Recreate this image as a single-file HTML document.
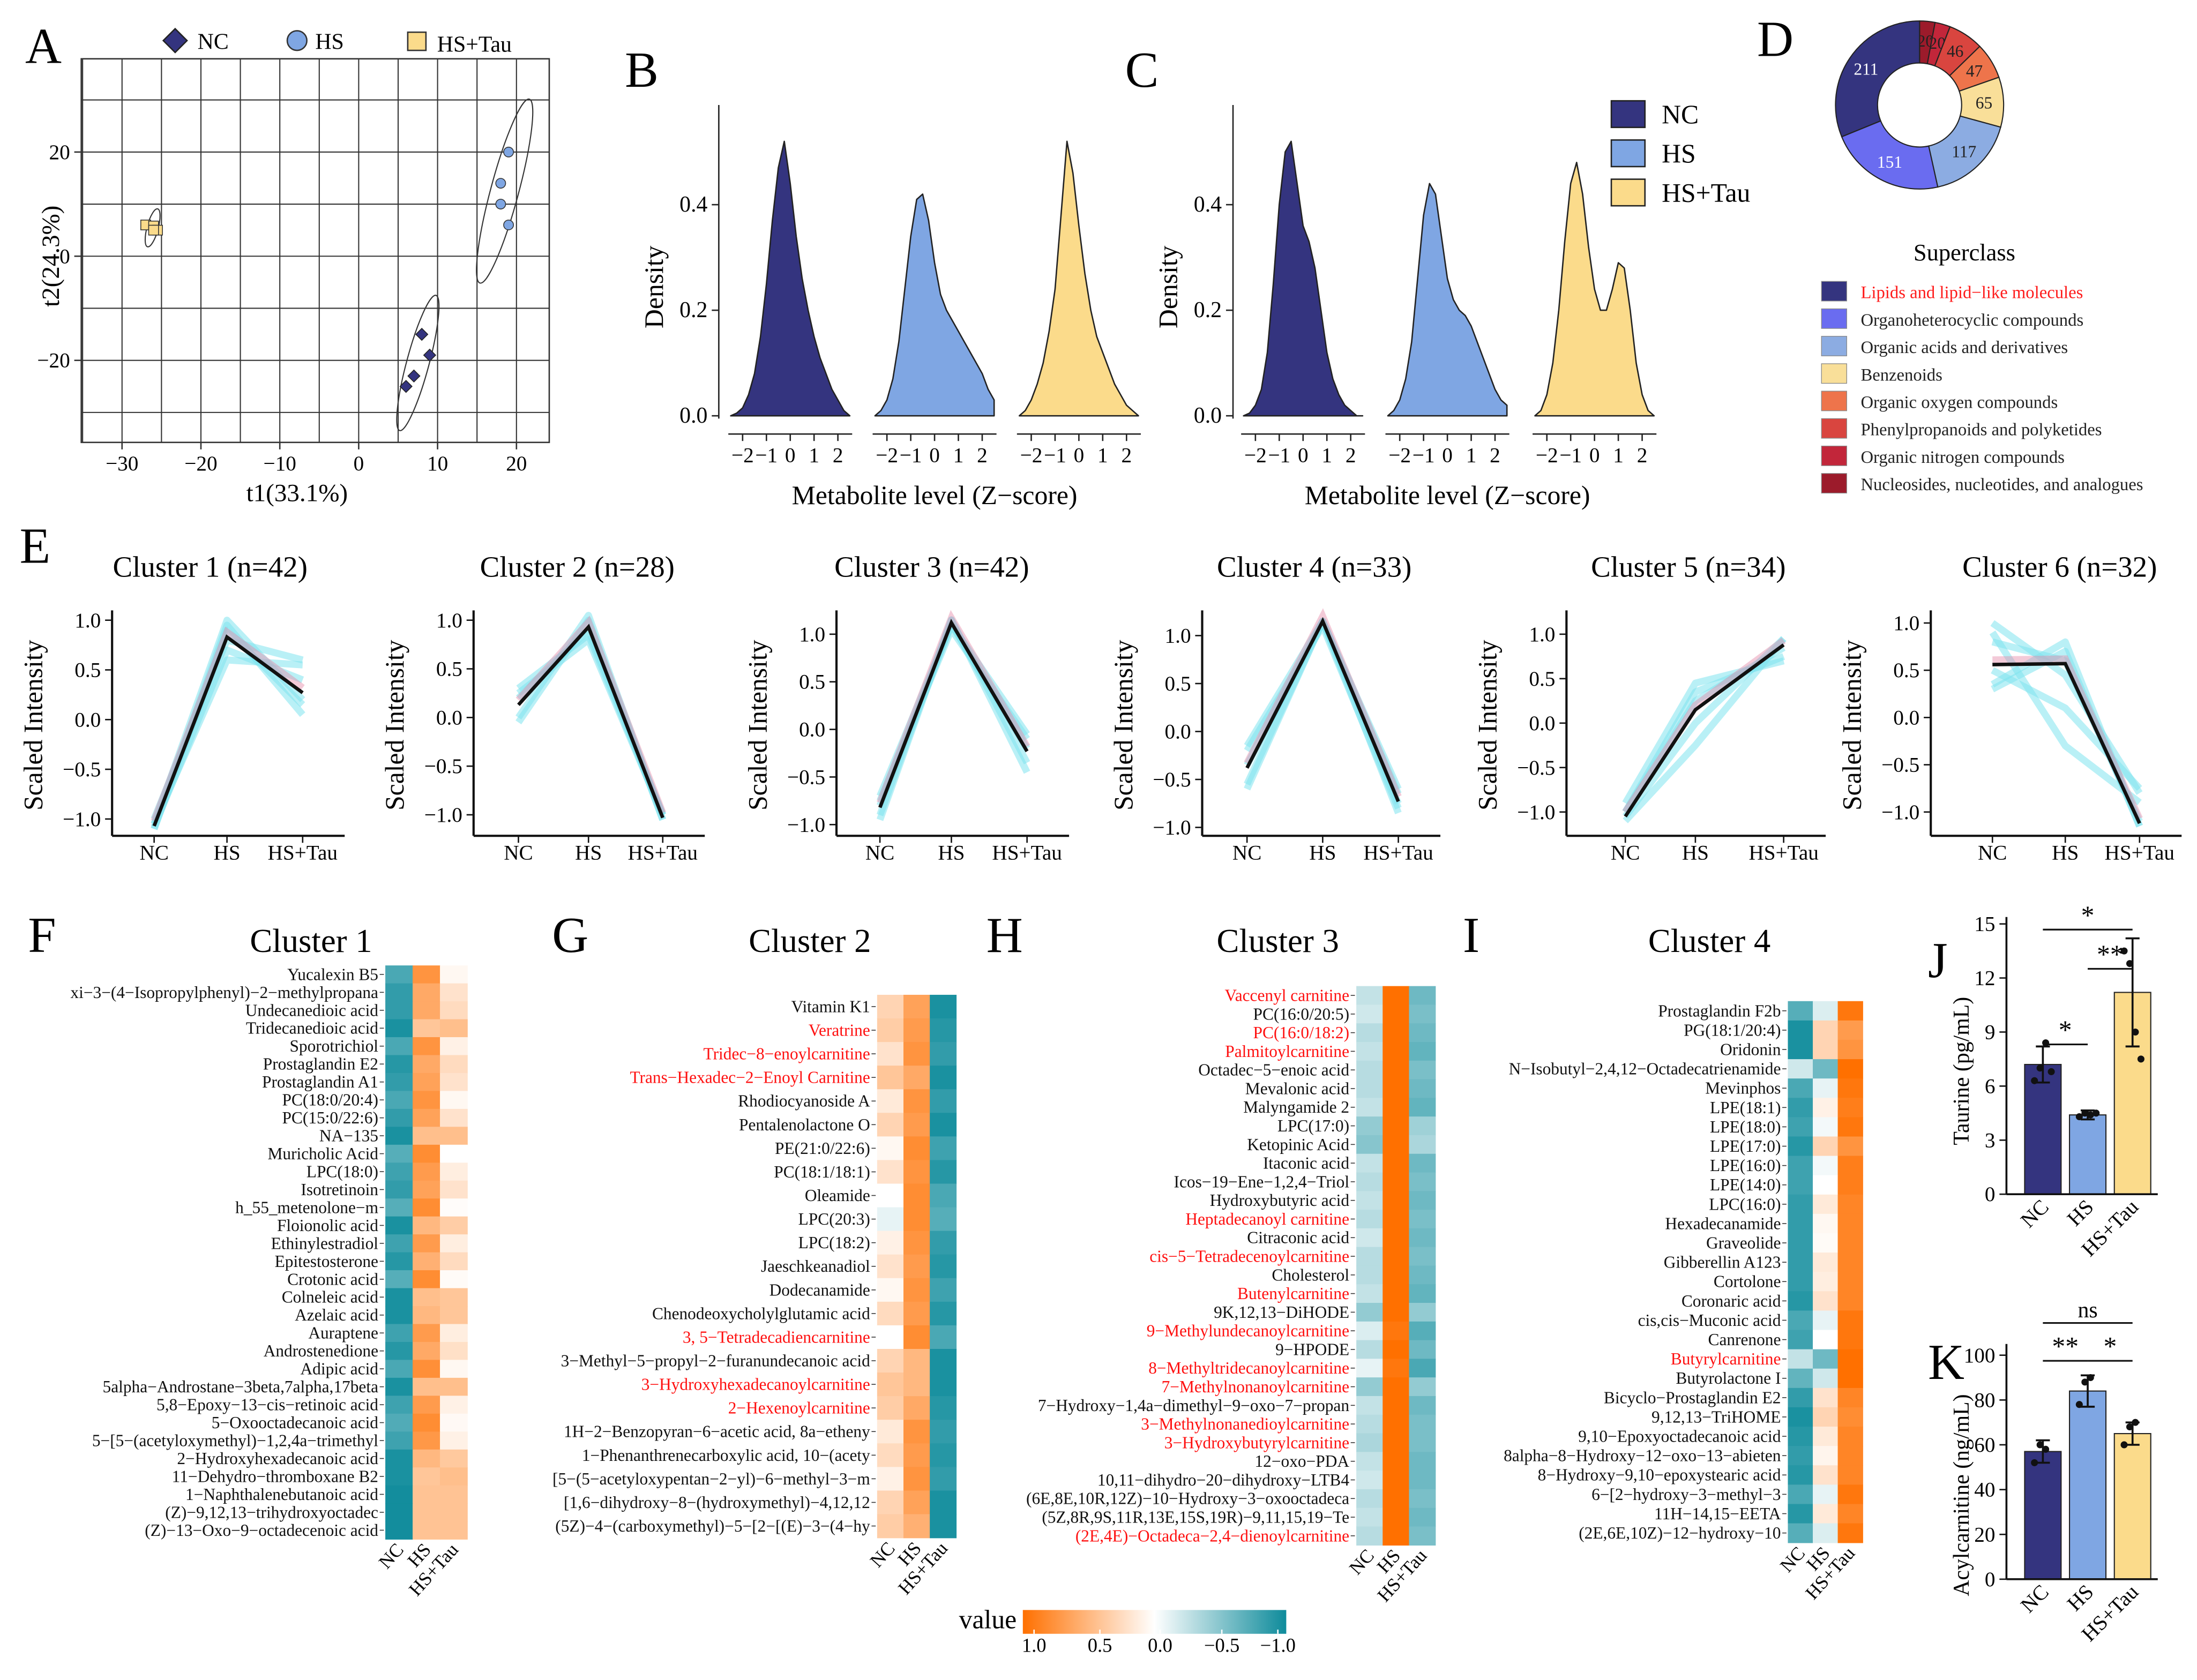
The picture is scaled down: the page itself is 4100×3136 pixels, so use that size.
<!DOCTYPE html>
<html><head><meta charset="utf-8">
<style>
html,body{margin:0;padding:0;background:#fff;}
svg{display:block;font-family:"Liberation Serif",serif;}
</style></head>
<body>
<svg id="fig" xmlns="http://www.w3.org/2000/svg" width="4100" height="3136" viewBox="0 0 1568 1200" preserveAspectRatio="none"></svg>
<script>
// ===== DATA =====
const pcaNC=[[8,-15],[9,-19],[7,-23],[6,-25]];
const pcaHS=[[19,20],[18,14],[18,10],[19,6]];
const pcaTau=[[-27,6],[-26,5.8],[-25.5,5],[-26,5]];
const zGrid=[-2.5,-2.25,-2,-1.75,-1.5,-1.25,-1,-0.75,-0.5,-0.25,0,0.25,0.5,0.75,1,1.25,1.5,1.75,2,2.25,2.5];
const densB_NC=[0,0.005,0.015,0.04,0.08,0.15,0.25,0.37,0.47,0.52,0.44,0.34,0.26,0.2,0.15,0.11,0.08,0.05,0.03,0.01,0];
const densB_HS=[0,0.01,0.03,0.07,0.14,0.24,0.34,0.41,0.42,0.37,0.29,0.23,0.2,0.18,0.16,0.14,0.12,0.1,0.08,0.05,0.03];
const densB_Tau=[0,0.01,0.03,0.06,0.1,0.16,0.24,0.38,0.52,0.46,0.36,0.27,0.2,0.15,0.12,0.09,0.06,0.04,0.02,0.01,0];
const densC_NC=[0,0.005,0.02,0.05,0.12,0.25,0.4,0.5,0.52,0.44,0.36,0.33,0.28,0.2,0.12,0.07,0.04,0.02,0.01,0,0];
const densC_HS=[0,0.01,0.03,0.07,0.14,0.26,0.38,0.44,0.42,0.34,0.26,0.22,0.2,0.19,0.17,0.14,0.11,0.08,0.05,0.03,0.02];
const densC_Tau=[0,0.01,0.04,0.1,0.2,0.33,0.44,0.48,0.42,0.32,0.24,0.2,0.2,0.24,0.29,0.28,0.2,0.1,0.04,0.01,0];
const donutLabels=["Nucleosides, nucleotides, and analogues","Organic nitrogen compounds","Phenylpropanoids and polyketides","Organic oxygen compounds","Benzenoids","Organic acids and derivatives","Organoheterocyclic compounds","Lipids and lipid−like molecules"];
const donutValues=[20,20,46,47,65,117,151,211];
const clusterTitles=["Cluster 1 (n=42)","Cluster 2 (n=28)","Cluster 3 (n=42)","Cluster 4 (n=33)","Cluster 5 (n=34)","Cluster 6 (n=32)"];
const clusterMeans=[[-1.07,0.83,0.27],[0.13,0.93,-1.03],[-0.82,1.12,-0.23],[-0.38,1.15,-0.73],[-1.05,0.15,0.88],[0.56,0.57,-1.12]];
const clusterTraces=[
 [[-1.05,0.6,0.55],[-1.1,0.95,0.05],[-1.0,0.8,0.6],[-1.1,0.9,0.15],[-1.08,0.7,0.4],[-1.05,1.0,0.2]],
 [[0.3,0.85,-1.0],[-0.05,1.0,-1.05],[0.25,0.8,-1.0],[0.0,1.05,-1.05],[0.2,0.9,-1.0]],
 [[-0.7,1.1,-0.05],[-0.95,1.15,-0.45],[-0.75,1.05,-0.1],[-0.9,1.15,-0.35],[-0.8,1.1,-0.2]],
 [[-0.15,1.15,-0.85],[-0.6,1.15,-0.6],[-0.2,1.1,-0.8],[-0.55,1.15,-0.65],[-0.35,1.15,-0.75]],
 [[-0.9,0.45,0.7],[-1.1,-0.25,0.95],[-1.0,0.35,0.75],[-1.05,0.0,0.95],[-1.0,0.25,0.85]],
 [[1.0,0.45,-0.8],[0.3,0.7,-1.15],[0.9,-0.3,-0.9],[0.5,0.1,-0.75],[0.8,0.6,-1.1],[0.35,0.8,-1.15]]
];
const groups=["NC","HS","HS+Tau"];
const hmF_labels=["Yucalexin B5","xi−3−(4−Isopropylphenyl)−2−methylpropana","Undecanedioic acid","Tridecanedioic acid","Sporotrichiol","Prostaglandin E2","Prostaglandin A1","PC(18:0/20:4)","PC(15:0/22:6)","NA−135","Muricholic Acid","LPC(18:0)","Isotretinoin","h_55_metenolone−m","Floionolic acid","Ethinylestradiol","Epitestosterone","Crotonic acid","Colneleic acid","Azelaic acid","Auraptene","Androstenedione","Adipic acid","5alpha−Androstane−3beta,7alpha,17beta","5,8−Epoxy−13−cis−retinoic acid","5−Oxooctadecanoic acid","5−[5−(acetyloxymethyl)−1,2,4a−trimethyl","2−Hydroxyhexadecanoic acid","11−Dehydro−thromboxane B2","1−Naphthalenebutanoic acid","(Z)−9,12,13−trihydroxyoctadec","(Z)−13−Oxo−9−octadecenoic acid"];
const hmF_values=[[-0.75,0.75,0.05],[-0.85,0.6,0.2],[-0.85,0.6,0.25],[-0.95,0.4,0.45],[-0.75,0.75,0.1],[-0.9,0.6,0.25],[-0.85,0.65,0.2],[-0.75,0.75,0.05],[-0.85,0.65,0.2],[-0.95,0.45,0.45],[-0.7,0.8,0.0],[-0.8,0.7,0.12],[-0.85,0.65,0.2],[-0.7,0.8,0.02],[-0.95,0.5,0.35],[-0.8,0.7,0.12],[-0.9,0.55,0.25],[-0.7,0.8,0.03],[-0.95,0.45,0.4],[-0.95,0.5,0.4],[-0.8,0.7,0.12],[-0.9,0.6,0.22],[-0.75,0.78,0.05],[-0.95,0.45,0.45],[-0.8,0.7,0.1],[-0.72,0.8,0.04],[-0.8,0.72,0.1],[-0.95,0.5,0.38],[-0.95,0.4,0.45],[-0.98,0.42,0.42],[-0.98,0.42,0.42],[-0.98,0.42,0.42]];
const hmF_red=[];
const hmG_labels=["Vitamin K1","Veratrine","Tridec−8−enoylcarnitine","Trans−Hexadec−2−Enoyl Carnitine","Rhodiocyanoside A","Pentalenolactone O","PE(21:0/22:6)","PC(18:1/18:1)","Oleamide","LPC(20:3)","LPC(18:2)","Jaeschkeanadiol","Dodecanamide","Chenodeoxycholylglutamic acid","3, 5−Tetradecadiencarnitine","3−Methyl−5−propyl−2−furanundecanoic acid","3−Hydroxyhexadecanoylcarnitine","2−Hexenoylcarnitine","1H−2−Benzopyran−6−acetic acid, 8a−etheny","1−Phenanthrenecarboxylic acid, 10−(acety","[5−(5−acetyloxypentan−2−yl)−6−methyl−3−m","[1,6−dihydroxy−8−(hydroxymethyl)−4,12,12","(5Z)−4−(carboxymethyl)−5−[2−[(E)−3−(4−hy"];
const hmG_values=[[0.3,0.65,-0.95],[0.35,0.7,-0.9],[0.2,0.75,-0.85],[0.4,0.6,-0.95],[0.15,0.75,-0.85],[0.3,0.7,-0.95],[0.05,0.8,-0.8],[0.2,0.75,-0.9],[0.0,0.8,-0.75],[-0.1,0.8,-0.7],[0.1,0.75,-0.85],[0.2,0.7,-0.9],[0.05,0.75,-0.8],[0.25,0.7,-0.9],[0.0,0.8,-0.75],[0.3,0.5,-0.95],[0.4,0.5,-0.95],[0.35,0.6,-0.9],[0.15,0.75,-0.85],[0.25,0.7,-0.9],[0.1,0.75,-0.85],[0.3,0.65,-0.95],[0.35,0.55,-0.95]];
const hmG_red=[1,2,3,14,16,17];
const hmH_labels=["Vaccenyl carnitine","PC(16:0/20:5)","PC(16:0/18:2)","Palmitoylcarnitine","Octadec−5−enoic acid","Mevalonic acid","Malyngamide 2","LPC(17:0)","Ketopinic Acid","Itaconic acid","Icos−19−Ene−1,2,4−Triol","Hydroxybutyric acid","Heptadecanoyl carnitine","Citraconic acid","cis−5−Tetradecenoylcarnitine","Cholesterol","Butenylcarnitine","9K,12,13−DiHODE","9−Methylundecanoylcarnitine","9−HPODE","8−Methyltridecanoylcarnitine","7−Methylnonanoylcarnitine","7−Hydroxy−1,4a−dimethyl−9−oxo−7−propan","3−Methylnonanedioylcarnitine","3−Hydroxybutyrylcarnitine","12−oxo−PDA","10,11−dihydro−20−dihydroxy−LTB4","(6E,8E,10R,12Z)−10−Hydroxy−3−oxooctadeca","(5Z,8R,9S,11R,13E,15S,19R)−9,11,15,19−Te","(2E,4E)−Octadeca−2,4−dienoylcarnitine"];
const hmH_values=[[-0.25,1,-0.6],[-0.2,1,-0.55],[-0.3,1,-0.6],[-0.25,1,-0.65],[-0.3,1,-0.55],[-0.3,1,-0.6],[-0.25,1,-0.65],[-0.45,1,-0.4],[-0.5,1,-0.35],[-0.25,1,-0.6],[-0.3,1,-0.55],[-0.25,1,-0.6],[-0.3,1,-0.55],[-0.2,1,-0.6],[-0.3,1,-0.55],[-0.3,1,-0.6],[-0.25,1,-0.65],[-0.45,1,-0.45],[-0.15,0.95,-0.7],[-0.3,1,-0.6],[-0.1,0.95,-0.75],[-0.45,1,-0.45],[-0.25,1,-0.6],[-0.3,1,-0.55],[-0.35,1,-0.55],[-0.25,1,-0.6],[-0.2,1,-0.6],[-0.3,1,-0.55],[-0.25,1,-0.6],[-0.3,1,-0.55]];
const hmH_red=[0,2,3,12,14,16,18,20,21,23,24,29];
const hmI_labels=["Prostaglandin F2b","PG(18:1/20:4)","Oridonin","N−Isobutyl−2,4,12−Octadecatrienamide","Mevinphos","LPE(18:1)","LPE(18:0)","LPE(17:0)","LPE(16:0)","LPE(14:0)","LPC(16:0)","Hexadecanamide","Graveolide","Gibberellin A123","Cortolone","Coronaric acid","cis,cis−Muconic acid","Canrenone","Butyrylcarnitine","Butyrolactone I","Bicyclo−Prostaglandin E2","9,12,13−TriHOME","9,10−Epoxyoctadecanoic acid","8alpha−8−Hydroxy−12−oxo−13−abieten","8−Hydroxy−9,10−epoxystearic acid","6−[2−hydroxy−3−methyl−3","11H−14,15−EETA","(2E,6E,10Z)−12−hydroxy−10"];
const hmI_values=[[-0.7,-0.15,0.95],[-0.95,0.3,0.7],[-0.95,0.3,0.75],[-0.2,-0.6,1],[-0.75,-0.1,0.95],[-0.85,0.1,0.9],[-0.8,-0.05,0.95],[-0.9,0.3,0.75],[-0.8,-0.05,0.9],[-0.8,0.0,0.9],[-0.85,0.15,0.85],[-0.85,0.05,0.85],[-0.85,0.03,0.85],[-0.85,0.15,0.85],[-0.85,0.12,0.85],[-0.9,0.2,0.85],[-0.75,-0.1,0.95],[-0.8,0.0,0.95],[-0.25,-0.6,1],[-0.65,-0.2,1],[-0.85,0.2,0.85],[-0.95,0.3,0.8],[-0.9,0.15,0.85],[-0.85,0.07,0.85],[-0.9,0.2,0.85],[-0.75,-0.1,0.95],[-0.9,0.15,0.85],[-0.7,-0.15,0.95]];
const hmI_red=[18];
const taurineMeans=[7.2,4.4,11.2];
const taurineErr=[1.0,0.25,3.0];
const taurinePoints=[[6.3,7.0,8.4,6.8],[4.3,4.5,4.4,4.5],[13.5,12.8,9.0,7.5]];
const acylMeans=[57,84,65];
const acylErr=[5,7,5];
const acylPoints=[[52,60,58],[78,88,90],[60,68,70]];

// ===== HELPERS =====
const svg=document.getElementById('fig');
const NS='http://www.w3.org/2000/svg';
function mk(tag,attrs,parent){const e=document.createElementNS(NS,tag);for(const k in attrs)e.setAttribute(k,attrs[k]);(parent||svg).appendChild(e);return e;}
function txt(s,x,y,size,attrs,parent){const a=Object.assign({x:x,y:y,'font-size':size},attrs||{});const e=mk('text',a,parent);e.textContent=s;return e;}
function lerp(a,b,t){return a+(b-a)*t;}
function hmColor(v){const o=[255,112,0],w=[255,255,255],t=[14,139,155];let c;if(v>=0){c=[0,1,2].map(i=>Math.round(lerp(w[i],o[i],Math.min(1,v))));}else{c=[0,1,2].map(i=>Math.round(lerp(w[i],t[i],Math.min(1,-v))));}return 'rgb('+c.join(',')+')';}
const grpCol=["#34347f","#7fa6e3","#fbdb8b"];

// ===== PANEL LETTERS =====
const letters=[["A",18,45],["B",446,62],["C",803,62],["D",1254,40],["E",14,402],["F",20,680],["G",394,680],["H",704,680],["I",1044,680],["J",1376,698],["K",1376,985]];
letters.forEach(l=>{const e=txt(l[0],l[1],l[2],36);

});

// ===== PANEL A =====
(function(){
const g=mk('g',{});


const X=v=>256+v*5.63, Y=v=>183-v*3.72;
const L=58,R=392,T=42,B=316;
for(let v=-35;v<=25;v+=5){const x=X(v);if(x>L&&x<R){const ln=mk('line',{x1:x,x2:x,y1:T,y2:B,stroke:'#333','stroke-width':0.8},g);}}
for(let v=-30;v<=30;v+=10){const y=Y(v);if(y>T&&y<B){const ln=mk('line',{x1:L,x2:R,y1:y,y2:y,stroke:'#333','stroke-width':0.8},g);}}
const fr=mk('rect',{x:L,y:T,width:R-L,height:B-T,fill:'none',stroke:'#333','stroke-width':1},g);

[-30,-20,-10,0,10,20].forEach(v=>{mk('line',{x1:X(v),x2:X(v),y1:B,y2:B+5,stroke:'#333'},g);const t=txt(String(v).replace('-','−'),X(v),B+20,15,{'text-anchor':'middle'},g);});
[20,0,-20].forEach(v=>{mk('line',{x1:L-5,x2:L,y1:Y(v),y2:Y(v),stroke:'#333'},g);const t=txt(String(v).replace('-','−'),L-8,Y(v)+5,15,{'text-anchor':'end'},g);});
const xt=txt('t1(33.1%)',212,358,18,{'text-anchor':'middle'},g);
const yt=txt('t2(24.3%)',0,0,18,{'text-anchor':'middle',transform:'translate(42,183) rotate(-90)'},g);
function ell(pts,rx,ry,name){const cx=pts.reduce((s,p)=>s+p[0],0)/pts.length,cy=pts.reduce((s,p)=>s+p[1],0)/pts.length;const e=mk('ellipse',{cx:X(cx),cy:Y(cy),rx:rx,ry:ry,fill:'none',stroke:'#333','stroke-width':0.8,transform:'rotate(15 '+X(cx)+' '+Y(cy)+')'},g);}
ell(pcaNC,8,50,'ellipse-nc');ell(pcaHS,10,68,'ellipse-hs');ell(pcaTau,4,14,'ellipse-hstau');
pcaTau.forEach(p=>{const e=mk('rect',{x:X(p[0])-3.5,y:Y(p[1])-3.5,width:7,height:7,fill:grpCol[2],stroke:'#333','stroke-width':0.6},g);});
pcaNC.forEach(p=>{const e=mk('rect',{x:X(p[0])-3,y:Y(p[1])-3,width:6,height:6,fill:grpCol[0],stroke:'#222','stroke-width':0.6,transform:'rotate(45 '+X(p[0])+' '+Y(p[1])+')'},g);});
pcaHS.forEach(p=>{const e=mk('circle',{cx:X(p[0]),cy:Y(p[1]),r:3.5,fill:grpCol[1],stroke:'#333','stroke-width':0.6},g);});
const l1=mk('rect',{x:119,y:23,width:12,height:12,fill:grpCol[0],stroke:'#222',transform:'rotate(45 125 29)'},g);
const lt1=txt('NC',141,35,16,{},g);
const l2=mk('circle',{cx:212,cy:29,r:7,fill:grpCol[1],stroke:'#333'},g);
const lt2=txt('HS',225,35,16,{},g);
const l3=mk('rect',{x:291,y:23,width:13,height:13,fill:grpCol[2],stroke:'#333'},g);
const lt3=txt('HS+Tau',312,37,16,{},g);
})();

// ===== PANELS B, C (density) =====
function densityPanel(axisX,centers,dens,name){
const g=mk('g',{});


const base=297,sc=377,zs=17;
const Y=v=>base-v*sc;
mk('line',{x1:axisX,x2:axisX,y1:75,y2:base+2,stroke:'#222','stroke-width':1},g);
[0,0.2,0.4].forEach(v=>{mk('line',{x1:axisX-5,x2:axisX,y1:Y(v),y2:Y(v),stroke:'#222'},g);const t=txt(v.toFixed(1),axisX-8,Y(v)+5,16,{'text-anchor':'end'},g);});
const yt=txt('Density',0,0,19,{'text-anchor':'middle',transform:'translate('+(axisX-40)+',205) rotate(-90)'},g);
centers.forEach((c,i)=>{
 const X=z=>c+z*zs;
 let d='M'+X(zGrid[0])+','+Y(0);
 zGrid.forEach((z,j)=>{d+=' L'+X(z)+','+Y(dens[i][j]);});
 d+=' L'+X(zGrid[zGrid.length-1])+','+Y(0)+' Z';
 const p=mk('path',{d:d,fill:grpCol[i],stroke:'#222','stroke-width':1,'stroke-linejoin':'round'},g);
 
 
 mk('line',{x1:X(-2.6),x2:X(2.6),y1:310,y2:310,stroke:'#222'},g);
 [-2,-1,0,1,2].forEach(z=>{mk('line',{x1:X(z),x2:X(z),y1:310,y2:315,stroke:'#222'},g);const t=txt(String(z).replace('-','−'),X(z),330,15,{'text-anchor':'middle'},g);});
});
const xt=txt('Metabolite level (Z−score)',centers[1],360,19,{'text-anchor':'middle'},g);
}
densityPanel(513,[564,667,770],[densB_NC,densB_HS,densB_Tau],'density-plot-b');
densityPanel(880,[930,1033,1138],[densC_NC,densC_HS,densC_Tau],'density-plot-c');
groups.forEach((gname,i)=>{const r=mk('rect',{x:1150,y:72+i*28,width:24,height:19,fill:grpCol[i],stroke:'#222'});const t=txt(gname,1186,88+i*28,19);});

// ===== PANEL D (donut) =====
(function(){
const cx=1370,cy=75,R=60,r=30;
const cols=["#9c1b2b","#c2263a","#d9453f","#ee744b","#f9df99","#8cace2","#6a6cf0","#34347f"];
const total=donutValues.reduce((a,b)=>a+b,0);
let a0=0;
donutValues.forEach((v,i)=>{
 const a1=a0+v/total*Math.PI*2;
 const p=(a,rad)=>[cx+rad*Math.sin(a),cy-rad*Math.cos(a)];
 const [x0,y0]=p(a0,R),[x1,y1]=p(a1,R),[x2,y2]=p(a1,r),[x3,y3]=p(a0,r);
 const large=(a1-a0)>Math.PI?1:0;
 const path=mk('path',{d:`M${x0},${y0} A${R},${R} 0 ${large} 1 ${x1},${y1} L${x2},${y2} A${r},${r} 0 ${large} 0 ${x3},${y3} Z`,fill:cols[i],stroke:'#222','stroke-width':0.8});
 
 
 const [lx,ly]=p((a0+a1)/2,46);
 const t=txt(String(v),lx,ly+4,12,{'text-anchor':'middle',fill:(i>=6?'#fff':'#222')});
 
 
 a0=a1;
});
const st=txt('Superclass',1402,186,17,{'text-anchor':'middle'});
for(let k=0;k<8;k++){const i=7-k;const y=201+k*19.6;
 const sw=mk('rect',{x:1300,y:y,width:18,height:14,fill:cols[i],stroke:'#888','stroke-width':0.5});
 const t=txt(donutLabels[i],1328,y+12,12.5,{fill:k===0?'#ff1a1a':'#222'});}
})();

// ===== PANEL E (cluster lines) =====
const clusterAx=[[80,110,162,216,443,585],[338,370,420,473,443,582],[597,628,679,733,453,589],[858,890,944,998,454,591],[1118,1160,1210,1273,453,580],[1378,1422,1474,1527,445,580]];
const titleX=[150,412,665,938,1205,1470];
clusterMeans.forEach((m,ci)=>{
 const [ax,xa,xb,xc,y1,ym1]=clusterAx[ci];
 const g=mk('g',{});
 
 
 const Y=v=>lerp(ym1,y1,(v+1)/2);const Xs=[xa,xb,xc];
 const tt=txt(clusterTitles[ci],titleX[ci],412,21,{'text-anchor':'middle'},g);
 mk('line',{x1:ax,x2:ax,y1:436,y2:597,stroke:'#111','stroke-width':1.6},g);
 mk('line',{x1:ax,x2:Xs[2]+30,y1:597,y2:597,stroke:'#111','stroke-width':1.6},g);
 [1,0.5,0,-0.5,-1].forEach(v=>{mk('line',{x1:ax-5,x2:ax,y1:Y(v),y2:Y(v),stroke:'#111'},g);const t=txt(v.toFixed(1).replace('-','−'),ax-8,Y(v)+5,15,{'text-anchor':'end'},g);});
 groups.forEach((gn,i)=>{mk('line',{x1:Xs[i],x2:Xs[i],y1:597,y2:602,stroke:'#111'},g);const t=txt(gn,Xs[i],614,15,{'text-anchor':'middle'},g);});
 const yt=txt('Scaled Intensity',0,0,19,{'text-anchor':'middle',transform:'translate('+(ax-50)+',518) rotate(-90)'},g);
 clusterTraces[ci].forEach(tr=>{const pl=mk('polyline',{points:tr.map((v,i)=>Xs[i]+','+Y(v)).join(' '),fill:'none',stroke:'#7fe3ee','stroke-width':5,'stroke-opacity':0.55,'stroke-linejoin':'round'},g);});
 const pk=mk('polyline',{points:m.map((v,i)=>Xs[i]+','+Y(v+0.05)).join(' '),fill:'none',stroke:'#e58aa8','stroke-width':5,'stroke-opacity':0.45},g);
 const ml=mk('polyline',{points:m.map((v,i)=>Xs[i]+','+Y(v)).join(' '),fill:'none',stroke:'#111','stroke-width':2.5},g);
});

// ===== HEATMAPS =====
function heatmap(name,title,titleX,labels,values,red,x0,cw,yFirst,yLast){
 const g=mk('g',{});
 
 
 const tt=txt(title,titleX,680,24,{'text-anchor':'middle'},g);
 const n=labels.length,step=(yLast-yFirst)/(n-1);
 labels.forEach((lab,r)=>{
  const yc=yFirst+r*step;
  values[r].forEach((v,c)=>{const rc=mk('rect',{x:x0+c*cw,y:yc-step/2,width:cw+0.3,height:step+0.3,fill:hmColor(v)},g);});
  mk('line',{x1:x0-4,x2:x0-1,y1:yc,y2:yc,stroke:'#333','stroke-width':0.6},g);
  const t=txt(lab,x0-5,yc+4,12,{'text-anchor':'end',fill:red.indexOf(r)>=0?'#ff1010':'#111'},g);
  
  
 });
 const yb=yLast+step/2;
 groups.forEach((gn,c)=>{const cx=x0+c*cw+cw/2+4;const t=txt(gn,0,0,13.5,{'text-anchor':'end',transform:'translate('+cx+','+(yb+8)+') rotate(-48)'},g);});
}
heatmap('heatmap-cluster-1','Cluster 1',222,hmF_labels,hmF_values,hmF_red,275,19.5,696,1093);
heatmap('heatmap-cluster-2','Cluster 2',578,hmG_labels,hmG_values,hmG_red,626,18.8,719,1090);
heatmap('heatmap-cluster-3','Cluster 3',912,hmH_labels,hmH_values,hmH_red,968,18.8,711,1097);
heatmap('heatmap-cluster-4','Cluster 4',1220,hmI_labels,hmI_values,hmI_red,1276,17.8,722,1095);
(function(){
 const defs=mk('defs',{});
 const lg=mk('linearGradient',{id:'hmgrad',x1:0,x2:1,y1:0,y2:0},defs);
 [1,0.5,0,-0.5,-1].forEach((v,i)=>mk('stop',{offset:(i*25)+'%','stop-color':hmColor(v)},lg));
 const r=mk('rect',{x:730,y:1150,width:188,height:17,fill:'url(#hmgrad)'});
 
 const vt=txt('value',705,1163,19,{'text-anchor':'middle'});
 [["1.0",738],["0.5",785],["0.0",828],["−0.5",872],["−1.0",912]].forEach(p=>{mk('line',{x1:p[1],x2:p[1],y1:1164,y2:1167,stroke:'#fff'});const t=txt(p[0],p[1],1180,14,{'text-anchor':'middle'});});
})();

// ===== BAR CHARTS J, K =====
function barChart(name,ytitle,means,errs,pts,y0px,pxPer,ticks,topPx,titleY,sigs){
 const g=mk('g',{});
 
 
 const ax=1432,Xs=[1458,1490,1522],bw=26;
 const Y=v=>y0px-v*pxPer;
 means.forEach((m,i)=>{
  const b=mk('rect',{x:Xs[i]-bw/2,y:Y(m),width:bw,height:y0px-Y(m),fill:grpCol[i],stroke:'#222','stroke-width':0.8},g);
  
  
  mk('line',{x1:Xs[i],x2:Xs[i],y1:Y(m-errs[i]),y2:Y(m+errs[i]),stroke:'#111','stroke-width':1.4},g);
  mk('line',{x1:Xs[i]-5,x2:Xs[i]+5,y1:Y(m+errs[i]),y2:Y(m+errs[i]),stroke:'#111','stroke-width':1.4},g);
  mk('line',{x1:Xs[i]-5,x2:Xs[i]+5,y1:Y(m-errs[i]),y2:Y(m-errs[i]),stroke:'#111','stroke-width':1.4},g);
  pts[i].forEach((p,k)=>{const c=mk('circle',{cx:Xs[i]+(k-1.5)*4,cy:Y(p),r:2.5,fill:'#111'},g);});
  const t=txt(groups[i],0,0,15,{'text-anchor':'end',transform:'translate('+(Xs[i]+5)+','+(y0px+10)+') rotate(-45)'},g);
 });
 mk('line',{x1:ax,x2:ax,y1:topPx,y2:y0px,stroke:'#111','stroke-width':1.4},g);
 mk('line',{x1:ax,x2:1540,y1:y0px,y2:y0px,stroke:'#111','stroke-width':1.4},g);
 ticks.forEach(v=>{mk('line',{x1:ax-5,x2:ax,y1:Y(v),y2:Y(v),stroke:'#111'},g);const t=txt(String(v),ax-8,Y(v)+5,15,{'text-anchor':'end'},g);});
 const yt=txt(ytitle,0,0,16,{'text-anchor':'middle',transform:'translate('+(ax-27)+','+titleY+') rotate(-90)'},g);
 sigs.forEach(s=>{const [a,b,yy,lab]=s;mk('line',{x1:Xs[a],x2:Xs[b],y1:yy,y2:yy,stroke:'#111','stroke-width':1.2},g);const t=txt(lab,(Xs[a]+Xs[b])/2,yy-4,lab==='ns'?16:19,{'text-anchor':'middle'},g);});
}
barChart('taurine-bar-chart','Taurine (pg/mL)',taurineMeans,taurineErr,taurinePoints,853,12.87,[0,3,6,9,12,15],655,765,[[0,2,664,'*'],[1,2,692,'**'],[0,1,746,'*']]);
barChart('acylcarnitine-bar-chart','Acylcarnitine (ng/mL)',acylMeans,acylErr,acylPoints,1128,1.6,[0,20,40,60,80,100],960,1068,[[0,2,945,'ns'],[0,1,972,'**'],[1,2,972,'*']]);
</script>
</body></html>
